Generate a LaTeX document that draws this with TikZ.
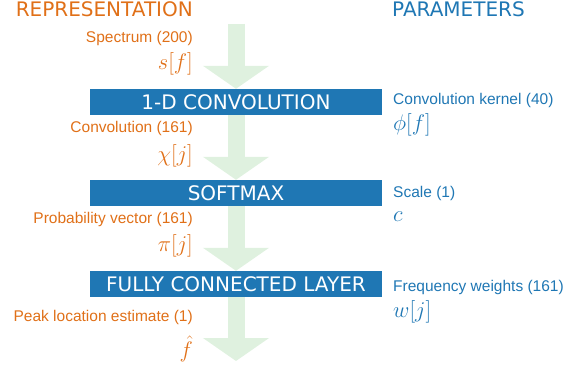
\RequirePackage{fix-cm}
\documentclass[tikz,border=0pt]{standalone}
\usepackage[no-math]{fontspec}
\setmainfont{Liberation Sans}
\newfontfamily\boxfont{DejaVu Sans}
\usetikzlibrary{arrows.meta,positioning}
\definecolor{repcolor}{RGB}{224,112,24}
\definecolor{parcolor}{RGB}{31,119,180}
\definecolor{flowcolor}{RGB}{223,241,223}

\begin{document}
\begin{tikzpicture}[x=1pt,y=-1pt]
    \tikzstyle{layer}=[rectangle,fill=parcolor,text=white,minimum width=292pt,minimum height=26pt,inner sep=0pt,font=\boxfont\fontsize{20}{20}\selectfont]
    \tikzstyle{flow}=[draw=flowcolor,line width=17pt,-{Triangle[width=65pt,length=23pt]}]
    \tikzstyle{heading}=[inner sep=0pt,font=\boxfont\fontsize{20}{20}\selectfont]
    \tikzstyle{rep}=[inner sep=0pt,text=repcolor,anchor=base east,font=\fontsize{15.5}{15.5}\selectfont]
    \tikzstyle{par}=[inner sep=0pt,text=parcolor,anchor=base west,font=\fontsize{15.5}{15.5}\selectfont]
    \tikzstyle{repmath}=[rep,font=\fontsize{22.5}{22.5}\selectfont]
    \tikzstyle{parmath}=[par,font=\fontsize{22.5}{22.5}\selectfont]

    \useasboundingbox (0,0) rectangle (580,366);

    %%% HEADINGS
    \node[heading,text=repcolor,anchor=base east] (rep-title) at (193,17) {REPRESENTATION};
    \node[heading,text=parcolor,anchor=base west] (par-title) at (392,17) {PARAMETERS};

    %%% LAYERS
    \node[layer] (conv) at (236,102) {1-D CONVOLUTION};
    \node[layer] (soft) at (236,193) {SOFTMAX};
    \node[layer] (fc) at (236,284) {FULLY CONNECTED LAYER};

    %%% FLOW
    \coordinate (in) at (236,24);
    \coordinate (out) at (236,361);
    \draw[flow] (in) -- (conv.north);
    \draw[flow] (conv.south) -- (soft.north);
    \draw[flow] (soft.south) -- (fc.north);
    \draw[flow] (fc.south) -- (out);

    %%% REPRESENTATION
    \node[rep] (spec-lab) at (193,43) {Spectrum (200)};
    \node[repmath] (spec) at (193,70) {$s[f]$};
    \node[rep] (chi-lab) at (193,133) {Convolution (161)};
    \node[repmath] (chi) at (193,161) {$\chi[j]$};
    \node[rep] (pi-lab) at (193,223) {Probability vector (161)};
    \node[repmath] (pi) at (193,251) {$\pi[j]$};
    \node[rep] (peak-lab) at (193,321) {Peak location estimate (1)};
    \node[repmath] (peak) at (193,357) {$\hat{f}$};

    %%% PARAMETERS
    \node[par] (kern-lab) at (393,105) {Convolution kernel (40)};
    \node[parmath] (kern) at (393,131) {$\phi[f]$};
    \node[par] (scale-lab) at (393,197) {Scale (1)};
    \node[parmath] (scale) at (393,221) {$c$};
    \node[par] (freq-lab) at (393,291) {Frequency weights (161)};
    \node[parmath] (freq) at (393,317) {$w[j]$};

\end{tikzpicture}
\end{document}
